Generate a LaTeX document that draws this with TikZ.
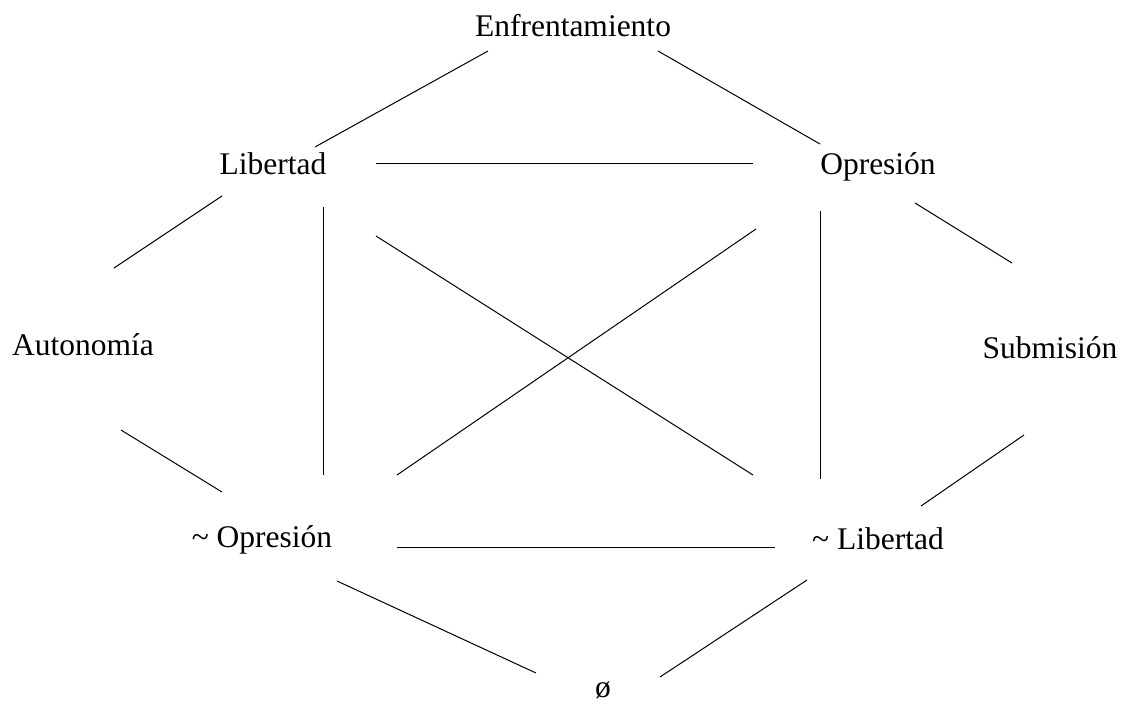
\documentclass[tikz,border=0pt]{standalone}
\usepackage{fontspec}
\setmainfont{Liberation Serif}
\begin{document}
\begin{tikzpicture}[x=1pt,y=-1pt,
  lbl/.style={anchor=base,inner sep=0pt,font=\fontsize{31.5}{38}\selectfont},
  edge/.style={line width=1pt,black}]
\useasboundingbox (0,0) rectangle (1127,704);
% nodes
\node[lbl] (enf) at (573,36) {Enfrentamiento};
\node[lbl] (lib) at (273,174) {Libertad};
\node[lbl] (opr) at (878,174) {Opresión};
\node[lbl] (aut) at (83,355) {Autonomía};
\node[lbl] (sub) at (1050,358) {Submisión};
\node[lbl] (nopr) at (262,547) {\textasciitilde{} Opresión};
\node[lbl] (nlib) at (878,549) {\textasciitilde{} Libertad};
\node[lbl] (nul) at (603,697) {ø};
% connector end points
\coordinate (a1) at (488,51);  \coordinate (b1) at (315,147);
\coordinate (a2) at (658,51);  \coordinate (b2) at (820,144);
\coordinate (a3) at (376,163); \coordinate (b3) at (753,163);
\coordinate (a4) at (222,196); \coordinate (b4) at (114,268);
\coordinate (a5) at (915,203); \coordinate (b5) at (1012,263);
\coordinate (a6) at (323,207); \coordinate (b6) at (323,475);
\coordinate (a7) at (820.5,211); \coordinate (b7) at (820.5,479);
\coordinate (a8) at (376,236); \coordinate (b8) at (753,475);
\coordinate (a9) at (756,229); \coordinate (b9) at (397,475);
\coordinate (a10) at (121,430); \coordinate (b10) at (222,492);
\coordinate (a11) at (1024,435); \coordinate (b11) at (921,506);
\coordinate (a12) at (397,547); \coordinate (b12) at (775,547);
\coordinate (a13) at (337,581); \coordinate (b13) at (536,673);
\coordinate (a14) at (807,580); \coordinate (b14) at (660,677);
\foreach \i in {1,...,14} {\draw[edge] (a\i) -- (b\i);}
\end{tikzpicture}
\end{document}
